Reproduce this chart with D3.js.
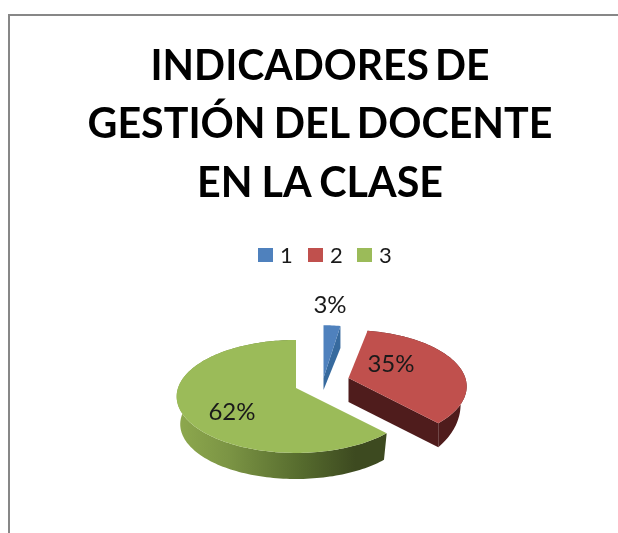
<!DOCTYPE html>
<html><head><meta charset="utf-8">
<script src="https://cdn.jsdelivr.net/npm/d3@7"></script>
<style>html,body{margin:0;background:#fff}svg{display:block;filter:blur(0.45px)}text{font-family:Lato,"Open Sans",sans-serif}</style>
</head><body><svg id="c" width="618" height="533"></svg>
<script>
const titleLines = ["INDICADORES DE","GESTIÓN DEL DOCENTE","EN LA CLASE"];
const categories = ["1","2","3"];
const values = [3,35,62];
const labels = ["3%","35%","62%"];
const colors = ["#4f81bd","#c0504d","#9bbb59"];
const wallColors = ["#376a9e","#4f1c1c","#4f1c1c"];

const svg = d3.select("#c");
const defs = svg.append("defs");
const g = defs.append("linearGradient").attr("id","gw");
[[0,"#8ea94e"],[.25,"#7b9444"],[.6,"#556a2d"],[.85,"#3d4a20"],[1,"#3d4a20"]].forEach(s=>g.append("stop").attr("offset",s[0]).attr("stop-color",s[1]));

svg.append("path").attr("d","M618,15H9V533").attr("fill","none").attr("stroke","#878787").attr("stroke-width",2);

titleLines.forEach((t,i)=>svg.append("text").attr("x",320).attr("y",[80,138,197][i]).attr("text-anchor","middle")
  .attr("font-size",42).attr("font-weight",700).attr("fill","#000").attr("word-spacing",[-4,-2,-1][i])
  .attr("textLength",[339,465,246][i]).attr("lengthAdjust","spacingAndGlyphs").text(t));

const legX = d3.scaleOrdinal().domain(categories).range([258,308,357]);
categories.forEach((c,i)=>{
  svg.append("rect").attr("x",legX(c)).attr("y",248).attr("width",15).attr("height",14).attr("fill",colors[i]);
  svg.append("text").attr("x",legX(c)+22).attr("y",263).attr("font-size",22).attr("fill","#1a1a1a").text(c);
});

const F=118,G=55.2,K=0.15;
const proj=(a,r)=>{const c=Math.cos(a)*r,s=Math.sin(a)*r,d=1+K*c;return [F*s/d,-G*c/d];};
const layout=[
 {ox:323.5,oy:378,sx:.88,sy:1.1},
 {ox:348.5,oy:378,sx:.99,sy:1,t:24},
 {ox:296,oy:388,sx:1,sy:1,t:28}
];
const labelPos=[[330,313],[391,372],[232,420]];
const arcs=d3.pie().sort(null).value(d=>d)(values);
const line=d3.line();
arcs.forEach((d,i)=>{
  const L=layout[i];
  const n=Math.max(6,Math.round((d.endAngle-d.startAngle)*40));
  const angs=d3.range(n+1).map(k=>d.startAngle+(d.endAngle-d.startAngle)*k/n);
  const top=angs.map(a=>{const p=proj(a,1);return [L.ox+p[0]*L.sx,L.oy+p[1]*L.sy];});
  if(i==0){
    const e=top[n];
    svg.append("path").attr("d",line([[L.ox,L.oy],e,[e[0],e[1]+22],[L.ox,L.oy+12]])+"Z").attr("fill",wallColors[i]);
  } else {
    const bot=angs.map(a=>{
      const p=proj(a,1);
      const q=Math.max(0,-Math.cos(a))/.729;
      const f=i==1?.3+.7*q:1;
      const bs=i==1?.93+.07*q:.97;
      return [L.ox+p[0]*L.sx*bs,L.oy+p[1]*L.sy*bs+L.t*f];
    });
    const fill=i==2?"url(#gw)":wallColors[i];
    svg.append("path").attr("d",line(top.concat(bot.slice().reverse()))+"Z").attr("fill",fill);
    if(i==1){
      svg.append("path").attr("d",line([[L.ox,L.oy],top[n],bot[n],[L.ox,L.oy+L.t]])+"Z").attr("fill",fill);
    }
  }
  svg.append("path").attr("d",line([[L.ox,L.oy]].concat(top))+"Z").attr("fill",colors[i]);
});
labels.forEach((t,i)=>svg.append("text").attr("x",labelPos[i][0]).attr("y",labelPos[i][1]).attr("text-anchor","middle")
  .attr("font-size",24).attr("fill","#1a1a1a").text(t));
</script></body></html>
